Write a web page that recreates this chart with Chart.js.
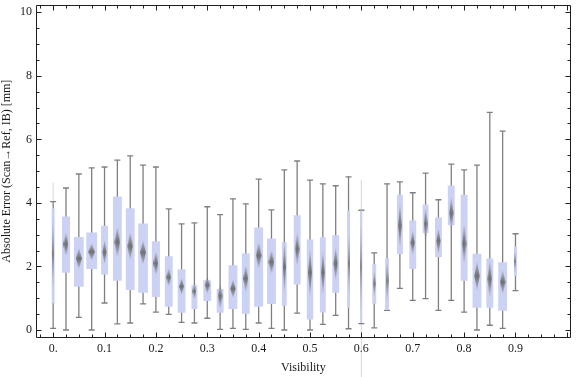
<!DOCTYPE html>
<html>
<head>
<meta charset="utf-8">
<script src="https://cdn.jsdelivr.net/npm/chart.js@4.4.1/dist/chart.umd.min.js"></script>
<style>
  html, body { margin: 0; padding: 0; background: #fff; }
  canvas { display: block; }
</style>
</head>
<body>
<canvas id="chart" width="576" height="377"></canvas>
<script>
// Box-whisker data, one entry per visibility bin
const visibility = [0, 0.025, 0.05, 0.075, 0.1, 0.125, 0.15, 0.175, 0.2, 0.225,
  0.25, 0.275, 0.3, 0.325, 0.35, 0.375, 0.4, 0.425, 0.45, 0.475,
  0.5, 0.525, 0.55, 0.575, 0.6, 0.625, 0.65, 0.675, 0.7, 0.725,
  0.75, 0.775, 0.8, 0.825, 0.85, 0.875, 0.9];
const whiskerLow = [0.05, 0.0, 0.40, 0.0, 0.85, 0.19, 0.22, 0.82, 0.56, 0.49,
  0.24, 0.22, 0.37, 0.02, 0.05, 0.02, 0.22, 0.05, 0.0, 0.53,
  0.0, 0.18, 0.46, 0.04, 0.20, 0.07, 0.62, 1.31, 0.93, 0.99,
  0.62, 0.93, 0.56, 0.0, 0.15, 0.05, 1.24];
const quartile1 = [0.84, 1.80, 1.36, 1.92, 1.75, 1.55, 1.26, 1.17, 1.04, 0.73,
  0.54, 0.66, 0.91, 0.54, 0.66, 0.51, 0.73, 0.82, 0.76, 1.43,
  0.33, 0.55, 1.17, 0.70, 0.22, 0.83, 0.63, 2.39, 1.92, 3.05,
  2.30, 3.30, 1.55, 0.70, 0.70, 0.61, 1.70];
const medians = [2.40, 2.70, 2.25, 2.46, 2.45, 2.77, 2.64, 2.44, 2.10, 1.66,
  1.37, 1.22, 1.41, 1.07, 1.30, 1.62, 2.35, 2.14, 1.98, 2.55,
  1.81, 1.81, 2.09, 2.10, 2.00, 1.46, 1.55, 3.29, 2.75, 3.34,
  2.80, 3.68, 2.72, 1.70, 1.61, 1.51, 2.16];
const quartile3 = [3.83, 3.57, 2.93, 3.07, 3.28, 4.20, 3.83, 3.35, 2.79, 2.32,
  1.91, 1.41, 1.57, 1.29, 2.04, 2.41, 3.23, 2.88, 2.76, 3.61,
  2.85, 2.92, 2.98, 3.76, 3.76, 2.07, 2.26, 4.26, 3.45, 3.95,
  3.54, 4.55, 4.26, 2.40, 2.25, 2.13, 2.63];
const whiskerHigh = [4.04, 4.47, 4.91, 5.10, 5.13, 5.35, 5.48, 5.19, 5.13, 3.81,
  3.34, 3.37, 3.88, 3.63, 4.13, 3.97, 4.75, 3.78, 5.04, 5.32,
  4.72, 4.60, 4.54, 4.82, 3.77, 2.43, 4.60, 4.66, 4.32, 4.94,
  4.10, 5.22, 5.04, 5.19, 6.85, 6.26, 3.03];
// half height of the median notch (confidence interval)
const notch = [1.20, 0.37, 0.32, 0.26, 0.37, 0.47, 0.43, 0.37, 0.37, 0.28,
  0.26, 0.26, 0.27, 0.40, 0.28, 0.42, 0.42, 0.37, 0.83, 0.53,
  0.75, 0.70, 0.52, 1.00, 1.50, 0.42, 0.65, 0.68, 0.39, 0.52,
  0.40, 0.50, 0.62, 0.45, 0.58, 0.37, 0.35];
// relative sample share of each bin (drives box width)
const sampleShare = [0.27, 0.75, 0.9, 1.0, 0.64, 0.82, 0.82, 0.9, 0.75, 0.73,
  0.73, 0.55, 0.73, 0.64, 0.82, 0.73, 0.82, 0.82, 0.45, 0.64,
  0.6, 0.55, 0.64, 0.27, 0.18, 0.36, 0.36, 0.55, 0.64, 0.55,
  0.64, 0.64, 0.64, 0.82, 0.64, 0.82, 0.27];
// faint rendering leftovers visible in the original
const ghostX = [0, 0.6];
const ghostLow = [4.04, -1.5];
const ghostHigh = [4.65, 4.73];

const BOX_COLOR = '#ccd2f4';
const WHISKER_COLOR = '#7f7f7f';
const FRAME_COLOR = '#1f1f1f';
const MAX_BOX_PCT = 0.84;   // fraction of bin spacing for the widest box

Chart.defaults.font.family = '"Liberation Serif", "Times New Roman", serif';
Chart.defaults.font.size = 12;
Chart.defaults.color = '#1a1a1a';

// Diamond images for the notched medians, cached by size
const diamondCache = {};
function diamond(w, h) {
  w = Math.max(1.5, w); h = Math.max(2, h);
  const key = w.toFixed(1) + 'x' + h.toFixed(1);
  if (diamondCache[key]) return diamondCache[key];
  const c = document.createElement('canvas');
  c.width = Math.ceil(w); c.height = Math.ceil(h);
  const g = c.getContext('2d');
  const cx = c.width / 2, cy = c.height / 2;
  const grad = g.createLinearGradient(0, 0, 0, c.height);
  grad.addColorStop(0, 'rgba(112,112,112,0.25)');
  grad.addColorStop(0.5, 'rgba(112,112,112,1)');
  grad.addColorStop(1, 'rgba(112,112,112,0.25)');
  g.fillStyle = grad;
  g.beginPath();
  g.moveTo(cx, cy - h / 2);
  g.lineTo(cx + w / 2, cy);
  g.lineTo(cx, cy + h / 2);
  g.lineTo(cx - w / 2, cy);
  g.closePath();
  g.fill();
  diamondCache[key] = c;
  return c;
}

// One bar dataset per box so that each can have its own width
const boxSets = visibility.map((v, i) => ({
  type: 'bar',
  data: [{ x: v, y: [quartile1[i], quartile3[i]] }],
  backgroundColor: BOX_COLOR,
  borderWidth: 0,
  grouped: false,
  categoryPercentage: 1,
  barPercentage: sampleShare[i] * MAX_BOX_PCT,
  order: 1
}));

const whiskerLine = [];
const capPoints = [];
visibility.forEach((v, i) => {
  whiskerLine.push({ x: v, y: whiskerLow[i] }, { x: v, y: whiskerHigh[i] }, { x: v, y: null });
  capPoints.push({ x: v, y: whiskerLow[i] }, { x: v, y: whiskerHigh[i] });
});

const ghostLine = [];
ghostX.forEach((v, i) => {
  ghostLine.push({ x: v, y: ghostLow[i] }, { x: v, y: ghostHigh[i] }, { x: v, y: null });
});

const datasets = [
  {
    type: 'scatter',
    data: visibility.map((v, i) => ({ x: v, y: medians[i] })),
    pointRadius: 3,
    pointStyle: (ctx) => {
      const i = ctx.dataIndex;
      const ys = ctx.chart.scales.y;
      if (i === undefined || !ys || !ys.height) return 'rectRot';
      const h = Math.abs(ys.getPixelForValue(medians[i] + notch[i]) - ys.getPixelForValue(medians[i] - notch[i]));
      const xs = ctx.chart.scales.x;
      const step = Math.abs(xs.getPixelForValue(0.025) - xs.getPixelForValue(0));
      return diamond(step * MAX_BOX_PCT * sampleShare[i] * 0.6, h);
    },
    order: 0
  },
  ...boxSets,
  {
    type: 'line',
    data: whiskerLine,
    borderColor: WHISKER_COLOR,
    borderWidth: 1.3,
    pointRadius: 0,
    spanGaps: false,
    order: 2
  },
  {
    type: 'scatter',
    data: capPoints,
    pointStyle: 'line',
    pointRadius: 3,
    borderColor: WHISKER_COLOR,
    borderWidth: 1.3,
    order: 2
  },
  {
    type: 'line',
    data: ghostLine,
    borderColor: 'rgba(160,160,160,0.35)',
    borderWidth: 1.2,
    pointRadius: 0,
    spanGaps: false,
    clip: false,
    order: 3
  }
];

const onStep = (v, step) => Math.abs(v / step - Math.round(v / step)) < 1e-6;

// Frame on all four sides with inward major/minor ticks taken from the scales
const frameTicks = {
  id: 'frameTicks',
  afterDatasetsDraw(chart) {
    const { ctx, chartArea: a, scales: { x, y } } = chart;
    const L = Math.round(a.left) + 0.5, R = Math.round(a.right) - 0.5;
    const T = Math.round(a.top) + 0.5, B = Math.round(a.bottom) + 0.5;
    ctx.save();
    ctx.strokeStyle = FRAME_COLOR;
    ctx.lineWidth = 1;
    ctx.beginPath();
    x.ticks.forEach(t => {
      if (!onStep(t.value, 0.025)) return;
      const len = onStep(t.value, 0.1) ? 5 : 3;
      const px = Math.round(x.getPixelForValue(t.value)) + 0.5;
      ctx.moveTo(px, B); ctx.lineTo(px, B - len);
      ctx.moveTo(px, T); ctx.lineTo(px, T + len);
    });
    y.ticks.forEach(t => {
      if (!onStep(t.value, 0.5)) return;
      const len = onStep(t.value, 2) ? 5 : 3;
      const py = Math.round(y.getPixelForValue(t.value)) + 0.5;
      ctx.moveTo(L, py); ctx.lineTo(L + len, py);
      ctx.moveTo(R, py); ctx.lineTo(R - len, py);
    });
    ctx.rect(L, T, R - L, B - T);
    ctx.stroke();
    ctx.restore();
  }
};

new Chart(document.getElementById('chart'), {
  type: 'bar',
  data: { datasets },
  plugins: [frameTicks],
  options: {
    responsive: false,
    animation: false,
    layout: { padding: { top: 4, right: 1, left: 0, bottom: 0 } },
    plugins: { legend: { display: false }, tooltip: { enabled: false } },
    scales: {
      x: {
        type: 'linear',
        offset: false,
        min: -0.0334,
        max: 1.0075,
        grid: { display: false, drawTicks: false },
        border: { display: false },
        ticks: {
          stepSize: 0.025,
          includeBounds: false,
          autoSkip: false,
          maxRotation: 0,
          padding: 5,
          callback: (v) => {
            if (!onStep(v, 0.1) || v < -1e-6 || v > 0.9 + 1e-6) return '';
            return Math.abs(v) < 1e-6 ? '0.' : v.toFixed(1);
          }
        },
        title: { display: true, text: 'Visibility', padding: { top: 0, bottom: 2 } },
        afterFit: (s) => { s.height = 40; s.paddingLeft = 0; s.paddingRight = 0; }
      },
      y: {
        type: 'linear',
        min: -0.22,
        max: 10.22,
        grid: { display: false, drawTicks: false },
        border: { display: false },
        ticks: {
          stepSize: 0.5,
          includeBounds: false,
          autoSkip: false,
          padding: 4,
          callback: (v) => (onStep(v, 2) && v >= 0 && v <= 10 ? String(v) : '')
        },
        title: { display: true, text: 'Absolute Error (Scan\u2192Ref, IB) [mm]', padding: { top: 0, bottom: 0 } },
        afterFit: (s) => { s.width = 36; s.paddingTop = 0; s.paddingBottom = 0; }
      }
    }
  }
});
</script>
</body>
</html>
